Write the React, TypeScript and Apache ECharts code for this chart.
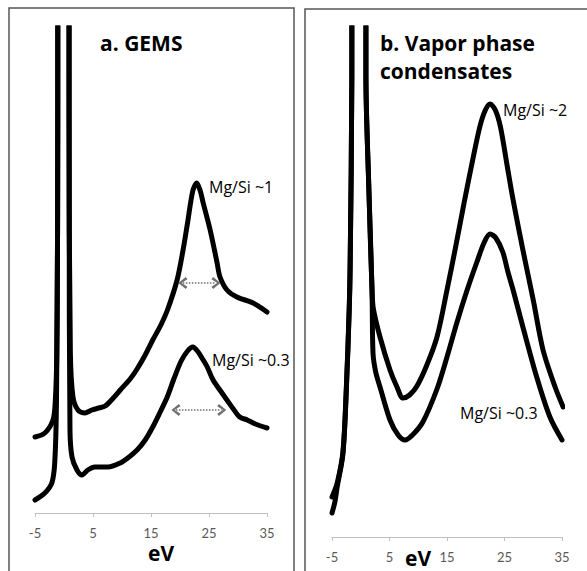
import React, { useEffect, useRef } from "react";
import * as echarts from "echarts";

// Energy loss (eV) vs intensity (arbitrary units, offset traces)
const gemsHighMg: [number, number][] = [
  [-5, 76], [-3.3, 80], [-1.9, 93], [-1.5, 112], [-1.25, 160], [-1.05, 400], [-0.95, 3000],
  [0.75, 3000], [0.85, 400], [1.1, 160], [1.55, 116], [2.4, 103], [3.6, 100], [4.8, 103],
  [6, 105], [7.1, 107], [8.5, 115], [9.7, 123], [11.4, 134], [12.6, 144], [14, 158],
  [15.3, 173], [16.7, 188], [17.9, 204], [19.5, 233], [20.5, 262], [21.3, 290], [22.2, 322],
  [22.9, 330], [23.5, 322], [24.0, 310], [25.2, 283], [26.4, 250], [26.9, 236], [28.1, 223],
  [29.8, 216], [32.6, 210], [35, 201],
];
const gemsLowMg: [number, number][] = [
  [-5, 13], [-3.3, 20], [-2.1, 30], [-1.6, 50], [-1.3, 110], [-1.1, 300], [-0.95, 3000],
  [0.75, 3000], [0.9, 300], [1.03, 83], [1.38, 56], [2.24, 43], [3.1, 38], [4.1, 43],
  [5.3, 46], [6.5, 46], [7.6, 46], [9.7, 50], [11, 55], [12.6, 63], [14, 73], [15.3, 86],
  [16.5, 100], [17.8, 116], [19, 135], [20.2, 152], [21.3, 162], [22.2, 166], [23, 162],
  [24.0, 153], [24.7, 146], [25.7, 133], [27, 122], [28.1, 113], [29.2, 104], [30.3, 96],
  [31.6, 93], [33, 89], [35, 85],
];
const vaporHighMg: [number, number][] = [
  [-5, 40], [-4.1, 54], [-3.1, 85], [-2.5, 150], [-2.0, 230], [-1.85, 270], [-1.55, 460],
  [-1.4, 3000], [0.8, 3000], [0.9, 460], [1.4, 350], [1.96, 247], [2.2, 228], [3.35, 200],
  [5.09, 167], [6.3, 150], [7.35, 139], [8.5, 142], [9.78, 151], [11.5, 172], [13.26, 200],
  [15, 247], [16.5, 290], [18, 335], [19.5, 378], [20.7, 410], [21.6, 426], [22.5, 433],
  [23.4, 427], [24.3, 410], [25.5, 370], [26.5, 337], [28.2, 287], [30, 237], [31.7, 187],
  [33.8, 150], [35.2, 130],
];
const vaporLowMg: [number, number][] = [
  [-5, 24], [-4.5, 35], [-4.1, 50], [-3.1, 83], [-2.5, 148], [-2.0, 228], [-1.85, 268],
  [-1.55, 460], [-1.4, 3000], [0.8, 3000], [0.9, 460], [1.4, 350], [1.96, 247], [2.13, 184],
  [2.6, 165], [3.35, 150], [5.09, 117], [6.5, 102], [7.7, 97], [9, 102], [10.8, 115],
  [13.26, 148], [15, 180], [16.7, 214], [18.5, 247], [20.2, 275], [21.5, 295], [22.5, 303],
  [23.5, 299], [24.7, 285], [25.6, 265], [26.5, 247], [28.2, 210], [30.6, 160], [32.9, 120],
  [35, 97],
];
// FWHM markers (eV start, eV end, level)
const fwhmHigh: [number, number, number] = [20.5, 26.2, 230];
const fwhmLow: [number, number, number] = [19.3, 27.2, 103];

const xMin = -5;
const xMax = 35;
const xStep = 10;

const chevron = "path://M0,9 L8,0 L16,9 L13,11 L8,4 L3,11 Z";

export default function App() {
  const ref = useRef<HTMLDivElement>(null);
  useEffect(() => {
    if (!ref.current) return;
    const chart = echarts.init(ref.current, undefined, { renderer: "svg" });
    const axisCommon = {
      type: "value" as const,
      min: xMin,
      max: xMax,
      interval: xStep,
      axisLine: { show: true, onZero: false, lineStyle: { color: "#bfbfbf", width: 1 } },
      axisTick: { show: true, length: 4, lineStyle: { color: "#bfbfbf" } },
      axisLabel: { color: "#595959", fontSize: 13, fontFamily: "Lato", margin: 13 },
      splitLine: { show: false },
    };
    const lineCommon = {
      type: "line" as const,
      showSymbol: false,
      symbol: "none",
      clip: true,
      smooth: 0.3,
      lineStyle: { color: "#000", width: 5, cap: "round" as const, join: "round" as const },
    };
    const mkFwhm = (f: [number, number, number]) => ({
      silent: true,
      symbol: [chevron, chevron],
      symbolSize: [12, 9],
      label: { show: false },
      lineStyle: { color: "#707070", type: "dotted" as const, width: 1.5 },
      emphasis: { disabled: true },
      data: [[{ coord: [f[0], f[2]] }, { coord: [f[1], f[2]] }]],
    });
    const txt = (x: number, y: number, text: string, size: number, weight: string) => ({
      type: "text" as const,
      x,
      y,
      style: {
        text,
        fill: "#000",
        font: `${weight} ${size}px "Open Sans"`,
        textVerticalAlign: "middle",
        textAlign: "left",
      },
    });
    chart.setOption({
      animation: false,
      backgroundColor: "#fff",
      grid: [
        { left: 35, right: 320, top: 28, bottom: 58 },
        { left: 332, right: 25, top: 28, bottom: 34 },
      ],
      xAxis: [
        { ...axisCommon, gridIndex: 0 },
        { ...axisCommon, gridIndex: 1 },
      ],
      yAxis: [
        { type: "value", gridIndex: 0, min: 0, max: 485, show: false },
        { type: "value", gridIndex: 1, min: 0, max: 509, show: false },
      ],
      series: [
        { ...lineCommon, name: "GEMS Mg/Si ~1", xAxisIndex: 0, yAxisIndex: 0, data: gemsHighMg, markLine: mkFwhm(fwhmHigh) },
        { ...lineCommon, name: "GEMS Mg/Si ~0.3", xAxisIndex: 0, yAxisIndex: 0, data: gemsLowMg, markLine: mkFwhm(fwhmLow) },
        { ...lineCommon, name: "Vapor Mg/Si ~2", xAxisIndex: 1, yAxisIndex: 1, data: vaporHighMg },
        { ...lineCommon, name: "Vapor Mg/Si ~0.3", xAxisIndex: 1, yAxisIndex: 1, data: vaporLowMg },
      ],
      graphic: [
        { type: "rect", shape: { x: 9, y: 8, width: 285, height: 620 }, style: { fill: "none", stroke: "#555", lineWidth: 1.5 } },
        { type: "rect", shape: { x: 305, y: 9, width: 320, height: 620 }, style: { fill: "none", stroke: "#555", lineWidth: 1.5 } },
        txt(100, 43, "a. GEMS", 21, "bold"),
        txt(380, 43, "b. Vapor phase", 21, "bold"),
        txt(380, 71, "condensates", 21, "bold"),
        txt(209, 187, "Mg/Si ~1", 16, "normal"),
        txt(212, 360, "Mg/Si ~0.3", 16, "normal"),
        txt(503, 110, "Mg/Si ~2", 16, "normal"),
        txt(460, 413, "Mg/Si ~0.3", 16, "normal"),
        txt(148, 553, "eV", 21, "bold"),
        txt(405, 558, "eV", 21, "bold"),
      ],
    });
    return () => chart.dispose();
  }, []);
  return <div ref={ref} style={{ position: "fixed", left: 0, top: 0, width: 587, height: 571 }} />;
}
